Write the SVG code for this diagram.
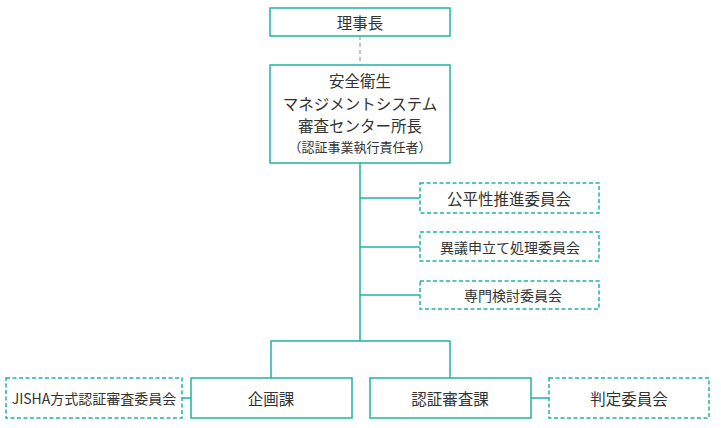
<svg xmlns="http://www.w3.org/2000/svg" width="721" height="428" viewBox="0 0 721 428">
<style>
.box{fill:#fff;stroke:#20b2a2;stroke-width:1.5}
.dbox{fill:#fff;stroke:#20b2a2;stroke-width:1.5;stroke-dasharray:4 2.5}
.ln{fill:none;stroke:#20b2a2;stroke-width:1.5}
.dl{fill:none;stroke:#888;stroke-width:1;stroke-dasharray:4 3}
text{font-family:"Noto Sans CJK JP","Noto Sans",sans-serif;fill:#333;text-anchor:middle;dominant-baseline:central}
.m{font-size:15.5px}
.s{font-size:14px}
.xs{font-size:13px}
</style>
<rect width="721" height="428" fill="#fff"/>
<g id="connectors">
<path class="dl" d="M360 36V65"/>
<path class="ln" d="M360 163V341M360 198H420M360 247H420M360 295H420M271 378V341H450V378M182 398H191M531 398H549"/>
</g>
<g id="n-rijicho"><rect class="box" x="270" y="8" width="180" height="28"/><text class="m" x="360" y="22">理事長</text></g>
<g id="n-center"><rect class="box" x="270" y="65" width="180" height="98"/>
<text class="m" x="360" y="80">安全衛生</text>
<text class="m" x="360" y="102.5">マネジメントシステム</text>
<text class="m" x="360" y="125">審査センター所長</text>
<text class="xs" x="360" y="146">（認証事業執行責任者）</text></g>
<g id="n-kohei"><rect class="dbox" x="420" y="183" width="179" height="30"/><text class="m" x="509" y="198">公平性推進委員会</text></g>
<g id="n-igi"><rect class="dbox" x="420" y="232" width="179" height="29"/><text class="s" x="510" y="246.5">異議申立て処理委員会</text></g>
<g id="n-senmon"><rect class="dbox" x="420" y="281" width="179" height="28"/><text class="s" x="513" y="295">専門検討委員会</text></g>
<g id="n-kikaku"><rect class="box" x="191" y="378" width="161" height="40"/><text class="m" x="271" y="398">企画課</text></g>
<g id="n-jisha"><rect class="dbox" x="6" y="378" width="176" height="40"/><text class="s" x="94" y="398">JISHA方式認証審査委員会</text></g>
<g id="n-ninsho"><rect class="box" x="370" y="378" width="161" height="40"/><text class="m" x="450" y="398">認証審査課</text></g>
<g id="n-hantei"><rect class="dbox" x="549" y="378" width="160" height="40"/><text class="m" x="629" y="398">判定委員会</text></g>
</svg>
